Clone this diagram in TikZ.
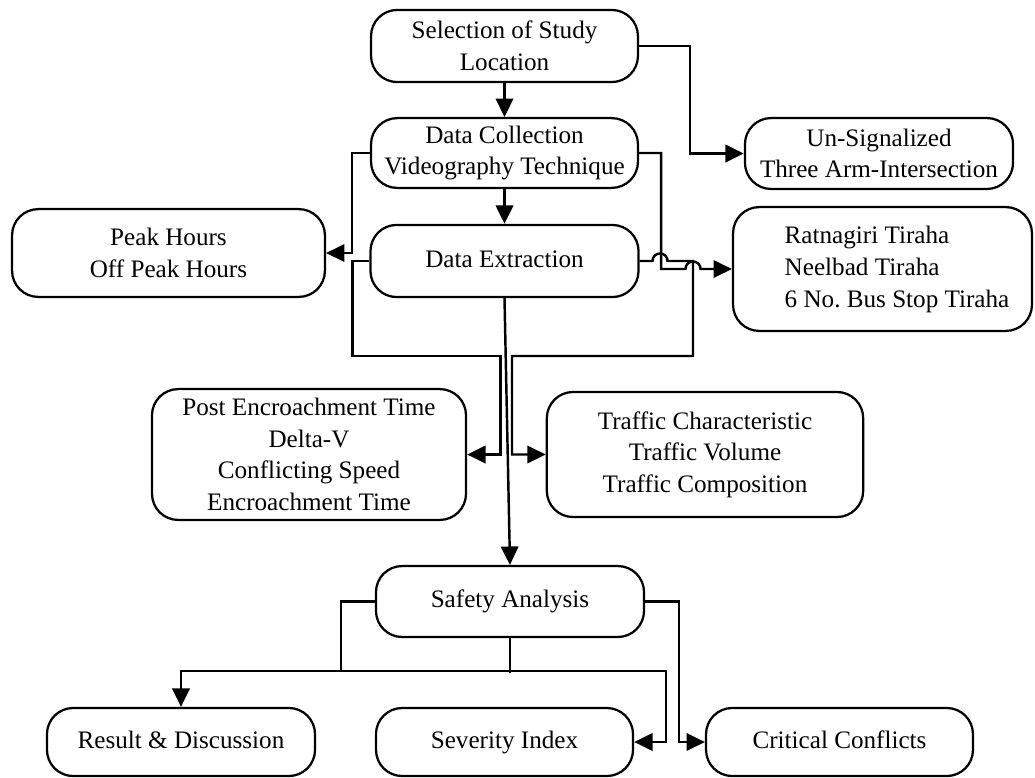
\documentclass[tikz,border=0pt]{standalone}
\usepackage{fontspec}
\setmainfont{Liberation Serif}
\usepackage{tikz}
\usetikzlibrary{arrows.meta,calc}

\begin{document}
\begin{tikzpicture}[x=0.0172cm, y=-0.0172cm,
    box/.style={draw, line width=1.1pt, rounded corners=0.45cm,
      align=center, inner sep=2pt, font=\fontsize{12.3}{15.5}\selectfont},
    oneline/.style={text height=1.65ex, text depth=0.35ex},
    flow/.style={line width=1.2pt},
    >={Triangle[length=9pt,width=8.5pt]}
  ]
  \useasboundingbox (0,0) rectangle (1035,777);

  \node[box, minimum width=4.59cm, minimum height=1.24cm] (sel) at (504.5,46) {Selection of Study\\Location};
  \node[box, minimum width=4.59cm, minimum height=1.20cm] (dc) at (504.5,153) {Data Collection\\Videography Technique};
  \node[box, minimum width=4.61cm, minimum height=1.22cm] (unsig) at (879,153.5) {Un-Signalized\\Three Arm-Intersection};
  \node[box, minimum width=5.38cm, minimum height=1.51cm] (peak) at (168.5,253) {Peak Hours\\Off Peak Hours};
  \node[box, oneline, minimum width=4.61cm, minimum height=1.24cm] (extr) at (504.5,261) {Data Extraction};
  \node[box, minimum width=5.14cm, minimum height=2.13cm] (ratna) at (882.5,269)
    {\begin{tabular}{@{\hspace{0.5cm}}l@{}}Ratnagiri Tiraha\\Neelbad Tiraha\\6 No.\ Bus Stop Tiraha\end{tabular}};
  \node[box, minimum width=5.40cm, minimum height=2.25cm] (pet) at (309,454.5) {Post Encroachment Time\\Delta-V\\Conflicting Speed\\Encroachment Time};
  \node[box, minimum width=5.44cm, minimum height=2.15cm] (traf) at (705,454.5) {Traffic Characteristic\\Traffic Volume\\Traffic Composition};
  \node[box, oneline, minimum width=4.61cm, minimum height=1.22cm] (safety) at (510,601.5) {Safety Analysis};
  \node[box, oneline, minimum width=4.61cm, minimum height=1.17cm] (result) at (181,742) {Result \& Discussion};
  \node[box, oneline, minimum width=4.42cm, minimum height=1.17cm] (sev) at (504.5,742) {Severity Index};
  \node[box, oneline, minimum width=4.59cm, minimum height=1.17cm] (crit) at (839.5,742) {Critical Conflicts};

  \coordinate (hopA) at (660,261);
  \coordinate (hopB) at (693,269);

  \draw[flow,->] (sel) -- (dc);
  \draw[flow,->] (sel.east) -- ++(51,0) |- (unsig.west);
  \draw[flow,->] (dc) -- (extr);
  \draw[flow,->] (dc.west) -- ++(-18,0) |- (peak.east);
  \draw[flow,->] (dc.east) -- ++(22,0) |- ([xshift=-0.13cm]hopB)
    arc[start angle=180, end angle=0, radius=0.13cm] -- (ratna.west);
  \draw[flow,->] (extr.east) -- ([xshift=-0.13cm]hopA)
    arc[start angle=180, end angle=0, radius=0.13cm] -- (hopB |- extr.east)
    |- ++(-181,95) |- (traf.west);
  \draw[flow,->] (extr.west) -- ++(-17,0) |- ++(148,95) |- (pet.east);
  \draw[flow,->] (extr.south) -- (safety.north);

  \draw[flow] (safety.west) -- ++(-34,0) -- ++(0,70.5);
  \draw[flow] (safety.south) -- ++(0,35);
  \draw[flow,<->] (result.north) |- ++(485,-36) |- (sev.east);
  \draw[flow,->] (safety.east) -- ++(34,0) |- (crit.west);
\end{tikzpicture}
\end{document}
